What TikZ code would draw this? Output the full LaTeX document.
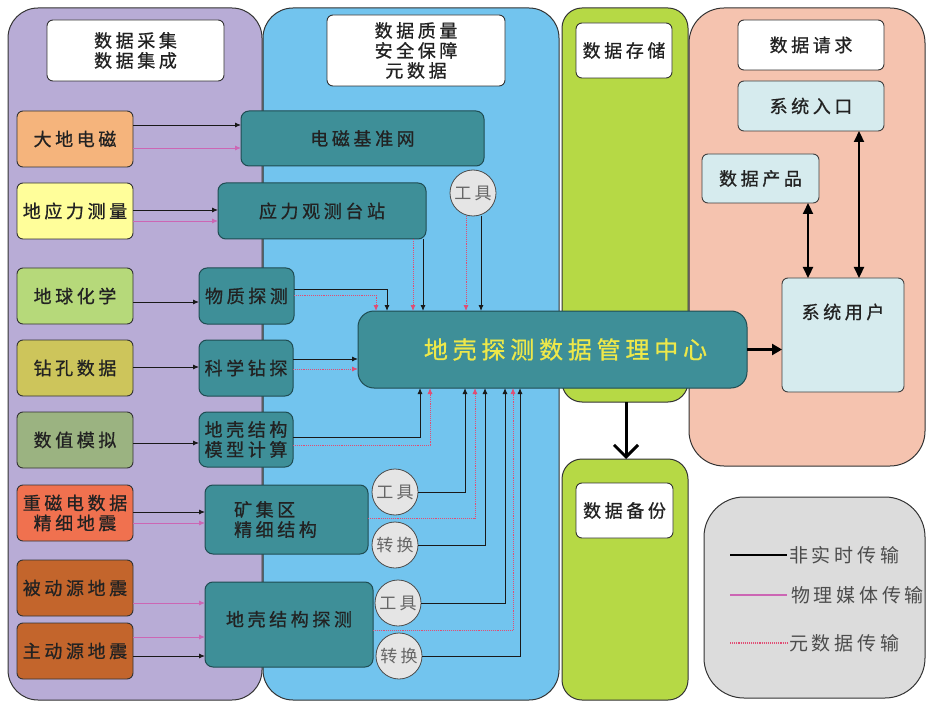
\documentclass[tikz,border=0pt]{standalone}
\usepackage{fontspec}
\setmainfont[LetterSpace=20, FakeBold=0.8]{Noto Sans CJK SC}
\newfontfamily\lightcjk[LetterSpace=20]{Noto Sans CJK SC}
\usetikzlibrary{arrows.meta}
\definecolor{purplec}{HTML}{B8ACD6}
\definecolor{bluec}{HTML}{72C4EE}
\definecolor{greenc}{HTML}{B6D945}
\definecolor{pinkp}{HTML}{F5C3AF}
\definecolor{grayp}{HTML}{DCDCDC}
\definecolor{tealc}{HTML}{3E8F98}
\definecolor{tealdk}{HTML}{1F4C52}
\definecolor{cyanl}{HTML}{D6EBEE}
\definecolor{orangec}{HTML}{F5B47C}
\definecolor{yellowc}{HTML}{FFFE9A}
\definecolor{greenl}{HTML}{B6D97A}
\definecolor{olivec}{HTML}{CDC55B}
\definecolor{greygreen}{HTML}{9BB381}
\definecolor{redor}{HTML}{F0714F}
\definecolor{brownc}{HTML}{C3652C}
\definecolor{titley}{HTML}{EDE84A}
\definecolor{pinkln}{HTML}{CC66B4}
\definecolor{metaln}{HTML}{E04D74}
\definecolor{txt}{HTML}{222222}
\begin{document}
\begin{tikzpicture}[x=1pt,y=-1pt,
  every node/.style={inner sep=0pt, outer sep=0pt, text=txt, font=\fontsize{18}{20}\selectfont},
  panel/.style={draw=black!80, line width=1pt, rounded corners=30pt},
  titlebox/.style={draw=black!80, line width=0.9pt, fill=white, rounded corners=6pt, align=center},
  inbox/.style={draw=black!80, line width=0.9pt, rounded corners=6pt, minimum width=116, minimum height=56, align=center},
  tealbox/.style={draw=tealdk, line width=1pt, fill=tealc, rounded corners=8pt, align=center},
  cyanbox/.style={draw=black!75, line width=0.9pt, fill=cyanl, rounded corners=6pt},
  toolc/.style={circle, draw=black!70, line width=0.8pt, fill=black!10, minimum size=46, text=black!60, font=\lightcjk\fontsize{17}{18}\selectfont},
  blk/.style={draw=black!90, line width=0.9pt, -{Latex[length=6pt,width=5pt]}},
  pnk/.style={draw=pinkln, line width=0.9pt, -{Latex[length=6pt,width=5pt]}},
  meta/.style={draw=metaln, line width=0.9pt, densely dotted, -{Latex[length=6pt,width=5pt]}},
  big/.style={draw=black, line width=2.6pt, -{Triangle[length=10pt,width=11pt]}},
  dbl/.style={draw=black, line width=2.2pt, {Triangle[length=11pt,width=10pt]}-{Triangle[length=11pt,width=10pt]}}
]
\useasboundingbox (0,0) rectangle (926,703);
% panels
\node[panel, fill=purplec, minimum width=254, minimum height=692] (pp) at (135,354) {};
\node[panel, fill=bluec, minimum width=296, minimum height=692] (bp) at (411,354) {};
\node[panel, fill=greenc, rounded corners=20pt, minimum width=126, minimum height=394] (gt) at (625,205) {};
\node[panel, fill=greenc, rounded corners=20pt, minimum width=126, minimum height=241] (gb) at (625,579.5) {};
\node[panel, fill=pinkp, rounded corners=35pt, minimum width=236, minimum height=458] (rp) at (807,237) {};
\node[panel, fill=grayp, rounded corners=40pt, minimum width=221, minimum height=201] (lg) at (814.5,597.5) {};
% title boxes
\node[titlebox, minimum width=177, minimum height=61] (t1) at (135.5,50.5) {数据采集\\数据集成};
\node[titlebox, minimum width=178, minimum height=71] (t2) at (416,50.5) {数据质量\\安全保障\\元数据};
\node[titlebox, minimum width=96, minimum height=55] (cc) at (624,50.5) {数据存储};
\node[titlebox, minimum width=97, minimum height=55] (bf) at (624.5,510.5) {数据备份};
\node[titlebox, minimum width=146, minimum height=50] (qq) at (811,45) {数据请求};
% right cyan boxes
\node[cyanbox, minimum width=146, minimum height=50] (rk) at (811,106) {系统入口};
\node[cyanbox, minimum width=117, minimum height=49] (cp) at (760.5,178.5) {数据产品};
\node[cyanbox, minimum width=122, minimum height=114,
  label={[yshift=23pt]center:系统用户}] (yh) at (843,335) {};
% left input boxes
\node[inbox, fill=orangec] (dadi) at (75,139) {大地电磁};
\node[inbox, fill=yellowc] (diying) at (75,211) {地应力测量};
\node[inbox, fill=greenl] (diqiu) at (75,296) {地球化学};
\node[inbox, fill=olivec] (zuan) at (75,368) {钻孔数据};
\node[inbox, fill=greygreen] (shuzhi) at (75,440) {数值模拟};
\node[inbox, fill=redor] (zhong) at (75,513) {重磁电数据\\精细地震};
\node[inbox, fill=brownc] (beid) at (75,588) {被动源地震};
\node[inbox, fill=brownc] (zhud) at (75,651) {主动源地震};
% teal boxes
\node[tealbox, minimum width=243, minimum height=55] (dcjz) at (362.5,138.5) {电磁基准网};
\node[tealbox, minimum width=208, minimum height=56] (ylgc) at (322,211) {应力观测台站};
\node[tealbox, minimum width=95, minimum height=56] (wztc) at (246.5,296) {物质探测};
\node[tealbox, minimum width=94, minimum height=56] (kxzt) at (246,368) {科学钻探};
\node[tealbox, minimum width=94, minimum height=55] (dkjg) at (246,439.5) {地壳结构\\模型计算};
\node[tealbox, minimum width=163, minimum height=69, align=left] (kjq) at (286.5,519.5) {矿集区\\精细结构\hspace*{22pt}};
\node[tealbox, minimum width=168, minimum height=85] (dktc) at (289,624.5) {地壳结构探测\\[-8pt]\mbox{}};
\node[tealbox, rounded corners=16pt, minimum width=389, minimum height=77, text=titley,
  font=\fontsize{24}{26}\selectfont] (ctr) at (552.5,349.5) {\hspace*{26pt}地壳探测数据管理中心};
% tool circles
\node[toolc] (g1) at (473,193) {工具};
\node[toolc] (g2) at (395,492) {工具};
\node[toolc] (z2) at (395,545) {转换};
\node[toolc] (g3) at (398,603) {工具};
\node[toolc] (z3) at (399,656) {转换};
% left -> teal arrows
\draw[blk] (dadi.east |- 0,125) -- (dcjz.west |- 0,125);
\draw[pnk] (dadi.east |- 0,148) -- (dcjz.west |- 0,148);
\draw[blk] (diying.east |- 0,210) -- (ylgc.west |- 0,210);
\draw[pnk] (diying.east |- 0,221) -- (ylgc.west |- 0,221);
\draw[blk] (diqiu.east |- 0,302) -- (wztc.west |- 0,302);
\draw[blk] (zuan.east |- 0,367) -- (kxzt.west |- 0,367);
\draw[blk] (shuzhi.east |- 0,443) -- (dkjg.west |- 0,443);
\draw[blk] (zhong.east |- 0,512) -- (kjq.west |- 0,512);
\draw[pnk] (zhong.east |- 0,523) -- (kjq.west |- 0,523);
\draw[pnk] (beid.east |- 0,603) -- (dktc.west |- 0,603);
\draw[pnk] (zhud.east |- 0,637) -- (dktc.west |- 0,637);
\draw[blk] (zhud.east |- 0,656) -- (dktc.west |- 0,656);
% teal -> center (top)
\draw[blk] (wztc.east |- 0,289) -| (ctr.north -| 387,0);
\draw[meta] (wztc.east |- 0,295) -| (ctr.north -| 376,0);
\draw[meta] (ylgc.south -| 413,0) -- (ctr.north -| 413,0);
\draw[blk] (ylgc.south -| 423,0) -- (ctr.north -| 423,0);
\draw[meta] (g1.south -| 466,0) -- (ctr.north -| 466,0);
\draw[blk] (g1.south -| 481,0) -- (ctr.north -| 481,0);
% left side
\draw[blk] (kxzt.east |- 0,359) -- (ctr.west |- 0,359);
\draw[meta] (kxzt.east |- 0,369) -- (ctr.west |- 0,369);
% bottom
\draw[blk] (dkjg.east |- 0,437) -| (ctr.south -| 420,0);
\draw[meta] (dkjg.east |- 0,445) -| (ctr.south -| 430,0);
\draw[blk] (g2.east) -| (ctr.south -| 465,0);
\draw[meta] (kjq.east |- 0,518) -| (ctr.south -| 475,0);
\draw[blk] (z2.east) -| (ctr.south -| 485,0);
\draw[blk] (g3.east) -| (ctr.south -| 505,0);
\draw[meta] (dktc.east |- 0,630) -| (ctr.south -| 513,0);
\draw[blk] (z3.east) -| (ctr.south -| 520,0);
% right side
\draw[big] (ctr.east) -- (yh.west |- ctr.east);
\draw[draw=black, line width=3pt, -{Straight Barb[length=12pt,width=24pt,line width=3pt]}] (gt.south -| 626,0) -- (gb.north -| 626,0);
\draw[dbl] (cp.south -| 808,0) -- (yh.north -| 808,0);
\draw[dbl] (rk.south -| 859,0) -- (yh.north -| 859,0);
% legend
\coordinate (la1) at (730,555); \coordinate (lb1) at (787,555);
\coordinate (la2) at (730,595); \coordinate (lb2) at (787,595);
\coordinate (la3) at (730,643); \coordinate (lb3) at (787,643);
\draw[black, line width=1.1pt] (la1) -- (lb1);
\draw[pinkln, line width=1.1pt] (la2) -- (lb2);
\draw[metaln, line width=1.1pt, densely dotted] (la3) -- (lb3);
\node[anchor=west, text=black!70, font=\lightcjk\fontsize{19}{20}\selectfont] (lt1) at (789,555) {非实时传输};
\node[anchor=west, text=black!70, font=\lightcjk\fontsize{19}{20}\selectfont] (lt2) at (791,595) {物理媒体传输};
\node[anchor=west, text=black!70, font=\lightcjk\fontsize{19}{20}\selectfont] (lt3) at (789,643) {元数据传输};
\end{tikzpicture}
\end{document}
